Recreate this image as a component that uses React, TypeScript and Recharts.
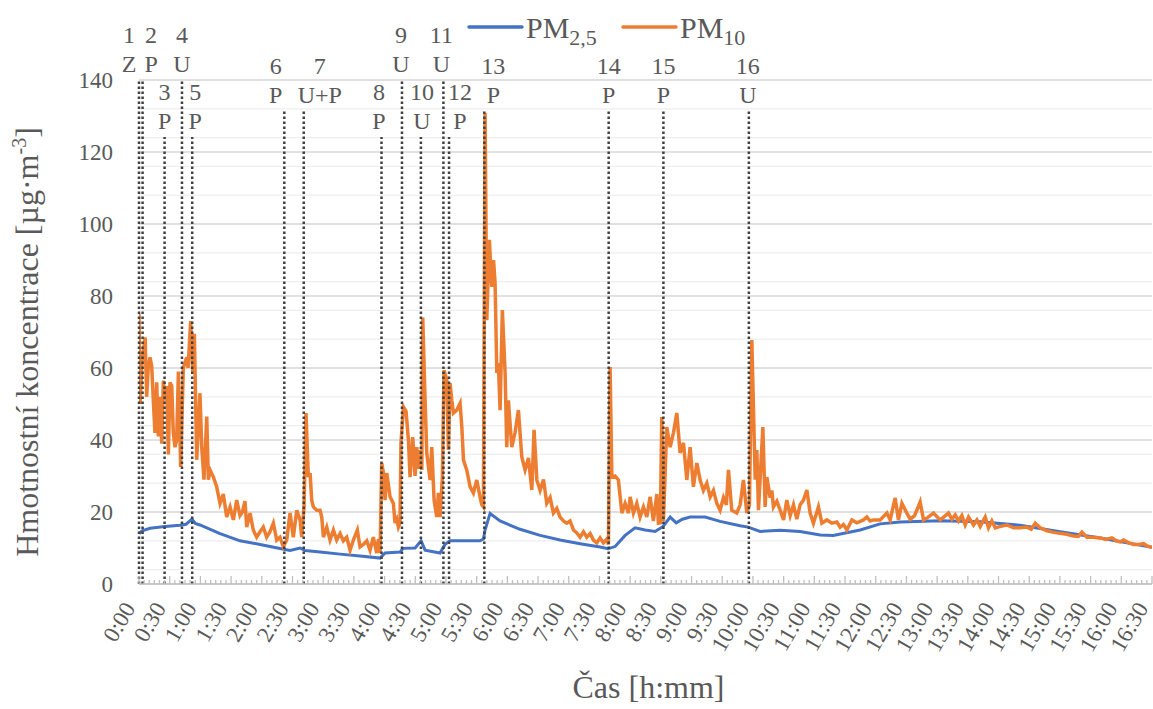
import React from "react";
import {
  CartesianGrid,
  Line,
  LineChart,
  ReferenceLine,
  XAxis,
  YAxis,
} from "recharts";

// [minute from start, µg/m3]
const PM25_POINTS: [number, number][] = [
  [0, 14], [3, 14.8], [10.8, 15.5], [25.4, 16], [40.1, 16.3], [46, 16.6],
  [51.8, 18], [55, 16.8], [59.6, 16.4], [79.2, 14], [98.7, 12], [118.3, 11],
  [142.7, 9.6], [147.6, 9.3], [157.4, 10], [162.3, 9.3], [176.9, 8.9],
  [196.5, 8.3], [216, 7.8], [235.6, 7.2], [240.5, 8.6], [255.1, 8.9],
  [258.1, 9.9], [269.8, 10], [275.7, 12], [279.6, 9.4], [294.2, 8.6],
  [299.1, 11], [304, 12], [333.3, 12], [336.6, 12.5], [338.2, 15],
  [343.1, 19.6], [352.9, 17.5], [372.4, 15.2], [392, 13.5], [411.5, 12.2],
  [431.1, 11.2], [450.6, 10.3], [458.4, 9.8], [465.3, 10.4], [475.1, 13.5],
  [484.8, 15.6], [494.6, 15], [504.4, 14.6], [512.2, 16], [519.1, 18.6],
  [525, 17], [531, 18], [538.6, 18.6], [553.3, 18.6], [567.9, 17.4],
  [587.5, 16.2], [595.3, 15.8], [607, 14.6], [626.6, 14.9], [646.1, 14.6],
  [665.7, 13.6], [678.4, 13.5], [704.8, 15], [724.3, 16.7], [743.9, 17.2],
  [783, 17.6], [822.1, 17.3], [861.2, 16.3], [900.3, 14.5], [939.4, 12.8],
  [990, 10.2],
];

const PM10_POINTS: [number, number][] = [
  [0, 75], [1, 50], [3, 62], [6, 68.5], [7.5, 52], [9, 60], [10.8, 63],
  [12.4, 60.5], [14, 51], [15.6, 42], [17.3, 56], [18.9, 41], [20.5, 52],
  [22.2, 39], [23.8, 56.5], [25.4, 51], [27.1, 55], [28.7, 36], [30.3, 56],
  [32, 55], [33.5, 42], [35.2, 38], [36.8, 40], [38.5, 59], [40.7, 32.5],
  [43.3, 60], [46.6, 63], [48, 60], [50.5, 73], [52.5, 59], [54.1, 69.5],
  [56.4, 34.5], [59.6, 53], [61.3, 38], [63.5, 29], [66.2, 46.5], [67.8, 29],
  [69.4, 31.7], [72.7, 29.7], [75.9, 27], [79.2, 22.4], [82.4, 25],
  [85.7, 18.6], [89, 21.4], [92.2, 17.8], [95.5, 23.3], [98.7, 19], [101, 20],
  [103.6, 23], [105.3, 15.8], [108.5, 19.7], [111.7, 15], [115, 13],
  [118.3, 14.5], [121.5, 15.8], [124.8, 13], [128, 14.5], [131.3, 16.9],
  [134.6, 12.2], [137.8, 13], [141, 10.4], [144.4, 12.2], [147.6, 19.7],
  [150.8, 13], [154.2, 20.5], [157.4, 17.8], [159, 13], [161.3, 21.4],
  [163.2, 47.5], [165.5, 29.7], [167.2, 30.8], [168.8, 23.3], [170.4, 21.4],
  [173.7, 20.5], [176.9, 20.5], [178.6, 18.6], [180.2, 13], [183.5, 15.8],
  [186.7, 12.2], [190, 15], [193.2, 12.2], [196.5, 14], [199.7, 12], [203, 13],
  [206.3, 9.4], [209.5, 12.2], [213.4, 15], [216, 10.3], [219.3, 11],
  [222.6, 12], [225.8, 9.4], [229, 13], [232.3, 8.6], [234, 12.5],
  [235.6, 8.6], [237.2, 33.6], [238.8, 31], [240.5, 23.3], [242.1, 30.8],
  [245.4, 24.2], [248.6, 22.4], [250.2, 16.9], [251.9, 18], [253.5, 15.8],
  [255.1, 16.9], [256, 39], [258.4, 49.2], [261, 48], [263.3, 40],
  [264.9, 29.7], [267.5, 40.8], [269.8, 30], [271.5, 38], [273, 32],
  [274.7, 37.2], [276.4, 31.7], [277.3, 74], [279.6, 51], [281.2, 36.4],
  [284.5, 28.9], [286.1, 38], [288.4, 23.3], [291, 18.6], [292.6, 25.3],
  [294.2, 18.6], [296.5, 29.7], [298.1, 59.4], [300.8, 56.7], [302.4, 37.2],
  [304, 55.8], [305.7, 51], [307.3, 47.5], [310.6, 48.3], [313.8, 50.2],
  [315.5, 43.6], [317.1, 34.4], [320.3, 31.7], [323.6, 27], [326.8, 25.3],
  [330.1, 28.9], [333.3, 24.2], [335, 22], [336.6, 21.4], [338.2, 130.8],
  [339.9, 73.3], [342.4, 95.6], [344.8, 82.5], [346.5, 90], [348, 83.6],
  [349.7, 58.6], [351.2, 61.4], [352.9, 48.3], [355.1, 76.1], [357.8, 58.6],
  [359.4, 38], [361, 51], [364.3, 38], [367.5, 42], [370.8, 48.3],
  [374.1, 35.3], [377.3, 31.7], [380.6, 35], [383.9, 26.1], [386.1, 42.8],
  [388.8, 28.9], [392, 26], [395.3, 29], [398.5, 22.4], [401.8, 24],
  [405, 19.7], [408.3, 21], [411.5, 18.6], [414.8, 17.5], [418.1, 16.9],
  [421.3, 17.5], [424.6, 15], [427.9, 14.2], [431.1, 13], [434.4, 14.5],
  [437.6, 13], [440.9, 14], [444.1, 12.2], [447.4, 11.4], [450.6, 12.8],
  [453.9, 11.4], [457.2, 12.5], [458.8, 11], [460.4, 60.3], [462.1, 29.7],
  [465.3, 30], [468.5, 28.9], [471.9, 19.7], [475.1, 22.4], [478.3, 19.7],
  [480, 24.2], [483.2, 19.7], [486.5, 22.4], [489.7, 18.6], [493, 21.4],
  [496.3, 18.6], [499.5, 24.2], [502.7, 17.5], [506.1, 25], [507.6, 16.9],
  [509.5, 17], [510.9, 46.4], [512.5, 17.5], [515.8, 43.6], [519.1, 38],
  [522.3, 42], [525.6, 47.5], [528.8, 36.4], [532.1, 39.2], [535.4, 28.9],
  [538.6, 38], [541.8, 27], [545.2, 33.6], [548.4, 28.9], [551.6, 26],
  [554.9, 28], [558.2, 24.2], [561.4, 26], [564.7, 22.4], [567.9, 20.5],
  [571.2, 24], [574, 22], [576.1, 31.7], [579.3, 20.5], [584.2, 19.7],
  [587.5, 22], [590.7, 28.9], [594, 19.7], [596.6, 22], [598.9, 67.8],
  [602.2, 29], [603.8, 37.2], [605.4, 20.5], [609.7, 43.6], [611.9, 21.4],
  [613.6, 29.7], [616.8, 24], [618.5, 26], [620, 21.4], [623.4, 23],
  [626.6, 20.5], [629.9, 17.8], [633.1, 23.3], [636.4, 19], [639.6, 22],
  [642.9, 18], [646.1, 22], [649.4, 23.3], [652.7, 26.1], [655.9, 19.7],
  [659.1, 16.9], [664, 21.4], [667.4, 16.9], [672.2, 17.8], [677.1, 16.9],
  [682, 17.2], [685.2, 15.8], [688.5, 16.5], [691.8, 15], [696.7, 17.8],
  [701.6, 17], [708, 17.8], [711.3, 18.6], [714.5, 17.5], [717.8, 17.8],
  [724.3, 17.8], [730.9, 19.7], [734.1, 17.8], [739, 23.9], [742.2, 17.8],
  [745.6, 22.4], [750.4, 19.7], [753.7, 18], [758, 19], [763.4, 22.8],
  [766.7, 17.8], [771, 18.5], [776.4, 19.7], [783, 17.8], [787, 18.7],
  [791.1, 19.7], [794.4, 18], [797.7, 19.2], [800.9, 17.5], [804.2, 19],
  [807.4, 16.4], [810.7, 18.6], [815.6, 16.4], [818.9, 17.8], [822.1, 16],
  [827, 18.6], [830.2, 15.6], [833.5, 17.5], [836.8, 15.6], [842, 16],
  [848.2, 16.4], [854.7, 15.6], [861.2, 15.6], [867.7, 15.8], [872, 15.2],
  [875.9, 16.9], [880.7, 15.6], [887.3, 14.8], [893, 14.4], [897, 14.2],
  [906.8, 13.8], [913.3, 13.3], [918, 13.2], [921.5, 14.4], [926.4, 13],
  [933, 13], [939.4, 12.8], [945, 12.4], [950.8, 12.8], [955, 12],
  [959, 11.7], [962.2, 12.2], [967, 11.5], [972, 11], [977, 11],
  [981.7, 11.2], [985, 10.6], [990, 10.2],
];

// events: minute, code, label row (0 = top)
const EVENT_MIN = [0, 3.5, 25, 42, 52, 142, 161, 237, 257, 275.5, 297.5, 303, 337.5, 459, 512.5, 596];
const EVENT_CODE = ["Z", "P", "P", "U", "P", "P", "U+P", "P", "U", "U", "U", "P", "P", "P", "P", "U"];
const EVENT_ROW = [0, 0, 2, 0, 2, 1, 1, 2, 0, 2, 0, 2, 1, 1, 1, 1];

const Y_TICKS = [0, 20, 40, 60, 80, 100, 120, 140];
const X_END = 990;

const FONT = '"Liberation Serif", "Times New Roman", serif';
const GREY = "#595959";
const BLUE = "#4472C4";
const ORANGE = "#ED7D31";

// label nudges (px) so the numbers don't collide
const LABEL_DX = [-10, 8.5, 0, 0, 3, -8.5, 16, -2.5, -1, 1, -2, 11, 9, 0, 0, -1];
const LINE_TOP = [140, 131.4, 124.2];

const pm25 = PM25_POINTS.map(([t, v]) => ({ t, v }));
const pm10 = PM10_POINTS.map(([t, v]) => ({ t, v }));
const xTicks = Array.from({ length: X_END / 5 + 1 }, (_, i) => i * 5);
const minorGrid = Array.from({ length: 36 }, (_, i) => i * 4);

const fmt = (m: number) =>
  `${Math.floor(m / 60)}:${String(m % 60).padStart(2, "0")}`;

const TimeTick = (props: any) => {
  const { x, y, payload } = props;
  const m = payload.value as number;
  const major = m % 30 === 0;
  const lx = x - 3;
  const ly = y + 24;
  return (
    <g>
      <line x1={x} x2={x} y1={y} y2={y - (major ? 8 : 4)} stroke="#bfbfbf" strokeWidth={1.3} />
      {major && (
        <text
          x={lx}
          y={ly}
          transform={`rotate(-60 ${lx} ${ly})`}
          textAnchor="end"
          fill={GREY}
          fontSize={23}
          fontFamily={FONT}
        >
          {fmt(m)}
        </text>
      )}
    </g>
  );
};

const YTitle = (props: any) => {
  const vb = props.viewBox || { y: 80, height: 504 };
  const cy = vb.y + vb.height / 2 + 10;
  const x = 38;
  return (
    <text
      x={x}
      y={cy}
      transform={`rotate(-90 ${x} ${cy})`}
      textAnchor="middle"
      fill={GREY}
      fontSize={32}
      fontFamily={FONT}
    >
      Hmotnostní koncentrace [µg·m
      <tspan dy={-12} fontSize={20}>-3</tspan>
      <tspan dy={12}>]</tspan>
    </text>
  );
};

const XTitle = (props: any) => {
  const vb = props.viewBox || { x: 139, width: 1013 };
  return (
    <text
      x={vb.x + vb.width / 2 + 3}
      y={698}
      textAnchor="middle"
      fill={GREY}
      fontSize={32}
      fontFamily={FONT}
    >
      Čas [h:mm]
    </text>
  );
};

const eventLabel = (i: number) => (props: any) => {
  const vb = props.viewBox;
  if (!vb) return null;
  const cx = vb.x + LABEL_DX[i];
  return (
    <g fill={GREY} fontSize={24} fontFamily={FONT} textAnchor="middle">
      <text x={cx} y={vb.y - 37}>{i + 1}</text>
      <text x={cx} y={vb.y - 8}>{EVENT_CODE[i]}</text>
    </g>
  );
};

function Legend() {
  const item = (x: number, color: string, sub: string) => (
    <g>
      <line x1={x} x2={x + 53} y1={27} y2={27} stroke={color} strokeWidth={3.5} strokeLinecap="round" />
      <text x={x + 57} y={38} fill={GREY} fontSize={30} fontFamily={FONT}>
        PM<tspan dy={7} fontSize={22}>{sub}</tspan>
      </text>
    </g>
  );
  return (
    <svg width={1153} height={60} style={{ position: "absolute", left: 0, top: 0, pointerEvents: "none" }}>
      {item(469, BLUE, "2,5")}
      {item(623, ORANGE, "10")}
    </svg>
  );
}

export default function App() {
  return (
    <div style={{ position: "absolute", left: 0, top: 0, width: 1153, height: 709, background: "#fff" }}>
      <LineChart width={1153} height={709} margin={{ top: 80, right: 1, left: 0, bottom: 0 }}>
        <CartesianGrid horizontalValues={minorGrid} vertical={false} stroke="#eeeeee" strokeWidth={1.3} />
        <CartesianGrid horizontalValues={Y_TICKS} vertical={false} stroke="#d9d9d9" strokeWidth={1.5} />
        <XAxis
          type="number"
          dataKey="t"
          domain={[0, X_END]}
          ticks={xTicks}
          interval={0}
          height={125}
          tickSize={0}
          tickMargin={0}
          tickLine={false}
          axisLine={{ stroke: "#bfbfbf", strokeWidth: 1.5 }}
          tick={TimeTick}
          allowDataOverflow
          label={(p: any) => <XTitle {...p} />}
        />
        <YAxis
          type="number"
          domain={[0, 140]}
          ticks={Y_TICKS}
          width={139}
          axisLine={false}
          tickLine={false}
          tickSize={0}
          tickMargin={26}
          tick={{ fill: GREY, fontSize: 23, fontFamily: FONT }}
          label={(p: any) => <YTitle {...p} />}
        />
        <Line
          data={pm25}
          dataKey="v"
          stroke={BLUE}
          strokeWidth={3}
          dot={false}
          type="linear"
          isAnimationActive={false}
        />
        <Line
          data={pm10}
          dataKey="v"
          stroke={ORANGE}
          strokeWidth={3.5}
          dot={false}
          type="linear"
          isAnimationActive={false}
        />
        {EVENT_MIN.map((t, i) => (
          <ReferenceLine
            key={i}
            segment={[
              { x: t, y: 0 },
              { x: t, y: LINE_TOP[EVENT_ROW[i]] },
            ]}
            stroke="#404040"
            strokeWidth={2.5}
            strokeDasharray="2.5 2.5"
            ifOverflow="visible"
            label={eventLabel(i)}
          />
        ))}
      </LineChart>
      <Legend />
    </div>
  );
}
